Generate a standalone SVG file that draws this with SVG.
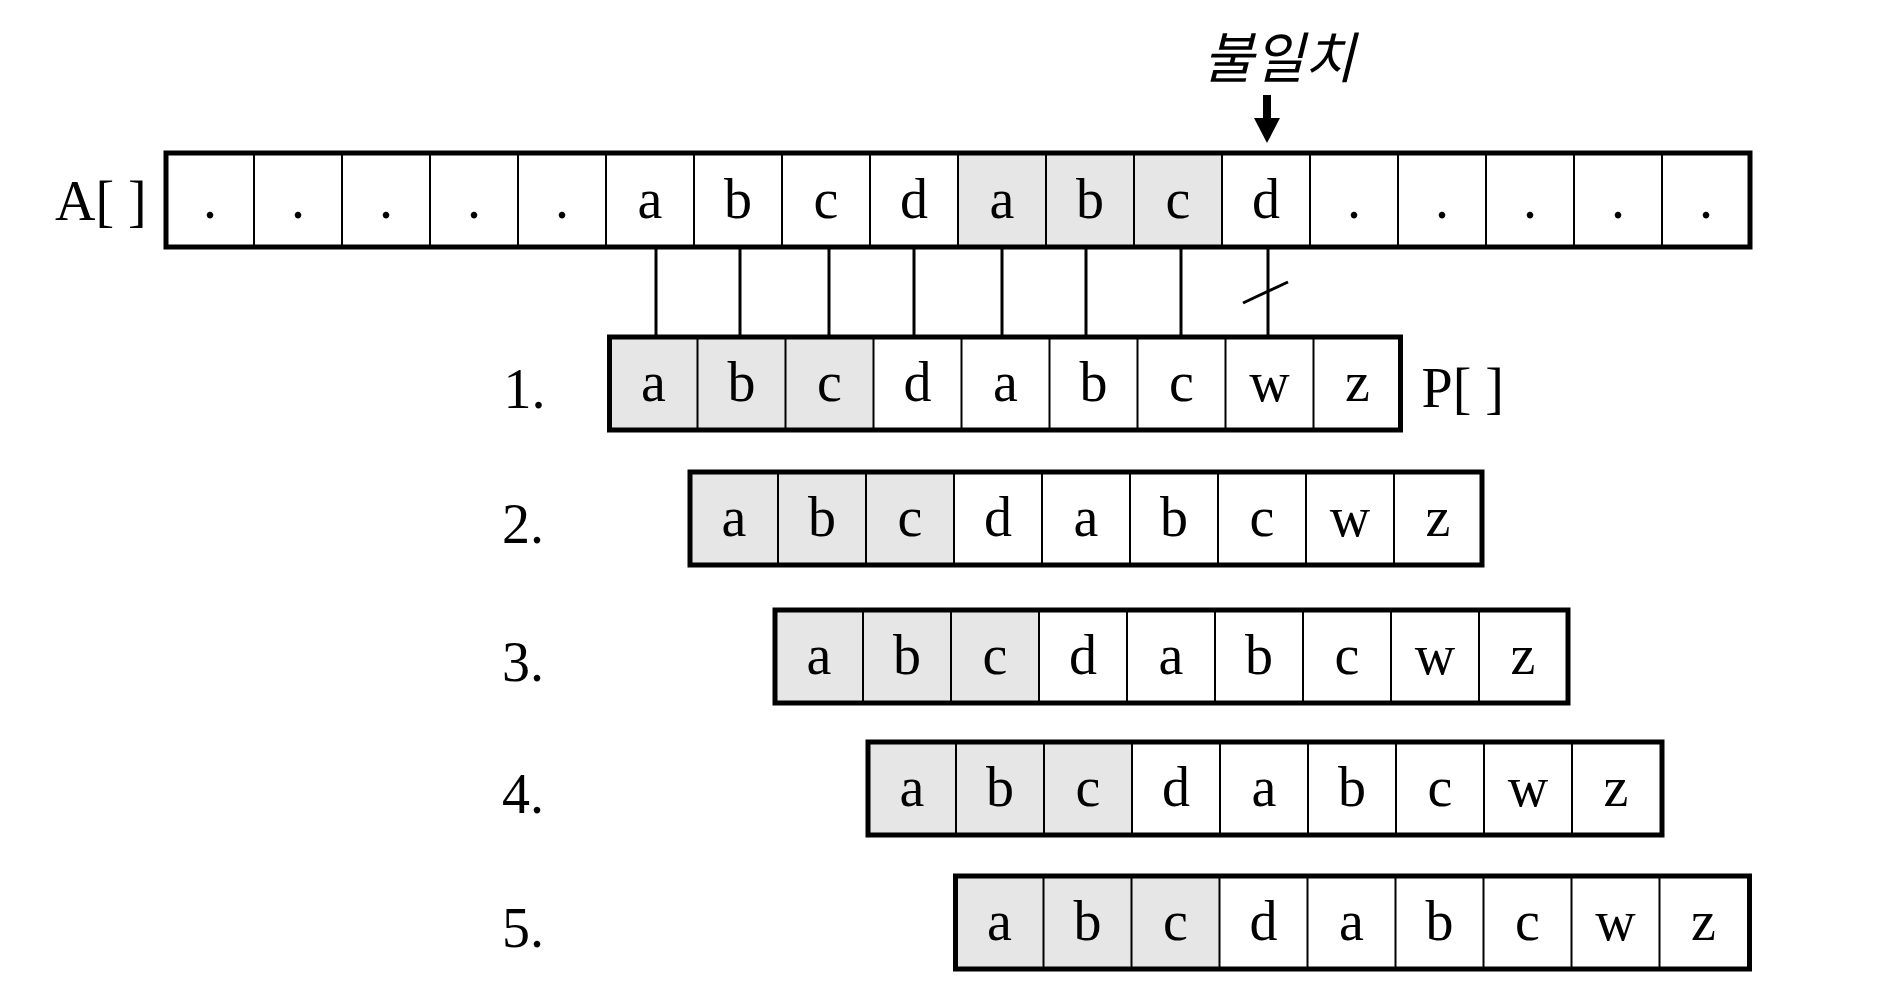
<svg xmlns="http://www.w3.org/2000/svg" width="1878" height="1000" viewBox="0 0 1878 1000">
<style>
.t{font-family:"Liberation Serif","Times New Roman",serif;font-size:56px;fill:#000;}
.c{text-anchor:middle;}
.g{fill:#e6e6e6;}
.frame{fill:none;stroke:#000;stroke-width:5;}
.div{stroke:#000;stroke-width:2;}
.con{stroke:#000;stroke-width:3;fill:none;}
.kr{font-family:"Noto Sans CJK KR","Noto Sans",sans-serif;font-size:55px;font-style:italic;text-anchor:middle;fill:#000;}
</style>
<rect width="1878" height="1000" fill="#fff"/>

<g id="arrayA">
<rect class="g" x="958" y="153" width="264" height="94"/>
<g class="div">
<line x1="254" y1="153" x2="254" y2="247"/><line x1="342" y1="153" x2="342" y2="247"/><line x1="430" y1="153" x2="430" y2="247"/><line x1="518" y1="153" x2="518" y2="247"/><line x1="606" y1="153" x2="606" y2="247"/><line x1="694" y1="153" x2="694" y2="247"/><line x1="782" y1="153" x2="782" y2="247"/><line x1="870" y1="153" x2="870" y2="247"/><line x1="958" y1="153" x2="958" y2="247"/><line x1="1046" y1="153" x2="1046" y2="247"/><line x1="1134" y1="153" x2="1134" y2="247"/><line x1="1222" y1="153" x2="1222" y2="247"/><line x1="1310" y1="153" x2="1310" y2="247"/><line x1="1398" y1="153" x2="1398" y2="247"/><line x1="1486" y1="153" x2="1486" y2="247"/><line x1="1574" y1="153" x2="1574" y2="247"/><line x1="1662" y1="153" x2="1662" y2="247"/>
</g>
<rect class="frame" x="166" y="153" width="1584" height="94"/>
<g class="t c">
<text x="210" y="218">.</text><text x="298" y="218">.</text><text x="386" y="218">.</text><text x="474" y="218">.</text><text x="562" y="218">.</text>
<text x="650" y="218">a</text><text x="738" y="218">b</text><text x="826" y="218">c</text><text x="914" y="218">d</text>
<text x="1002" y="218">a</text><text x="1090" y="218">b</text><text x="1178" y="218">c</text><text x="1266" y="218">d</text>
<text x="1354" y="218">.</text><text x="1442" y="218">.</text><text x="1530" y="218">.</text><text x="1618" y="218">.</text><text x="1706" y="218">.</text>
</g>
<text class="t" x="55" y="220">A[ ]</text>
</g>

<g id="mismatch">
<text class="kr" x="1279" y="78">불일치</text>
<rect x="1263" y="95" width="8" height="25" fill="#000"/>
<polygon points="1254,118 1280,118 1267,143" fill="#000"/>
</g>

<g id="connectors">
<line class="con" x1="656" y1="248" x2="656" y2="336"/>
<line class="con" x1="740" y1="248" x2="740" y2="336"/>
<line class="con" x1="829" y1="248" x2="829" y2="336"/>
<line class="con" x1="914" y1="248" x2="914" y2="336"/>
<line class="con" x1="1002" y1="248" x2="1002" y2="336"/>
<line class="con" x1="1086" y1="248" x2="1086" y2="336"/>
<line class="con" x1="1181" y1="248" x2="1181" y2="336"/>
<line class="con" x1="1268" y1="248" x2="1268" y2="336"/>
<line class="con" x1="1243" y1="303" x2="1288" y2="282" stroke-width="3.5"/>
</g>

<g id="row1" transform="translate(609.5,337)">
<rect class="g" x="0" y="0" width="264" height="93"/>
<g class="div"><line x1="88" y1="0" x2="88" y2="93"/><line x1="176" y1="0" x2="176" y2="93"/><line x1="264" y1="0" x2="264" y2="93"/><line x1="352" y1="0" x2="352" y2="93"/><line x1="440" y1="0" x2="440" y2="93"/><line x1="528" y1="0" x2="528" y2="93"/><line x1="616" y1="0" x2="616" y2="93"/><line x1="704" y1="0" x2="704" y2="93"/></g>
<rect class="frame" x="0" y="0" width="791" height="93"/>
<g class="t c"><text x="44" y="64">a</text><text x="132" y="64">b</text><text x="220" y="64">c</text><text x="308" y="64">d</text><text x="396" y="64">a</text><text x="484" y="64">b</text><text x="572" y="64">c</text><text x="660" y="64">w</text><text x="748" y="64">z</text></g>
<text class="t" x="-106" y="71">1.</text>
<text class="t" x="812" y="70">P[ ]</text>
</g>

<g id="row2" transform="translate(690,472)">
<rect class="g" x="0" y="0" width="264" height="93"/>
<g class="div"><line x1="88" y1="0" x2="88" y2="93"/><line x1="176" y1="0" x2="176" y2="93"/><line x1="264" y1="0" x2="264" y2="93"/><line x1="352" y1="0" x2="352" y2="93"/><line x1="440" y1="0" x2="440" y2="93"/><line x1="528" y1="0" x2="528" y2="93"/><line x1="616" y1="0" x2="616" y2="93"/><line x1="704" y1="0" x2="704" y2="93"/></g>
<rect class="frame" x="0" y="0" width="792" height="93"/>
<g class="t c"><text x="44" y="64">a</text><text x="132" y="64">b</text><text x="220" y="64">c</text><text x="308" y="64">d</text><text x="396" y="64">a</text><text x="484" y="64">b</text><text x="572" y="64">c</text><text x="660" y="64">w</text><text x="748" y="64">z</text></g>
<text class="t" x="-188" y="71">2.</text>
</g>

<g id="row3" transform="translate(775,610)">
<rect class="g" x="0" y="0" width="264" height="93"/>
<g class="div"><line x1="88" y1="0" x2="88" y2="93"/><line x1="176" y1="0" x2="176" y2="93"/><line x1="264" y1="0" x2="264" y2="93"/><line x1="352" y1="0" x2="352" y2="93"/><line x1="440" y1="0" x2="440" y2="93"/><line x1="528" y1="0" x2="528" y2="93"/><line x1="616" y1="0" x2="616" y2="93"/><line x1="704" y1="0" x2="704" y2="93"/></g>
<rect class="frame" x="0" y="0" width="793" height="93"/>
<g class="t c"><text x="44" y="64">a</text><text x="132" y="64">b</text><text x="220" y="64">c</text><text x="308" y="64">d</text><text x="396" y="64">a</text><text x="484" y="64">b</text><text x="572" y="64">c</text><text x="660" y="64">w</text><text x="748" y="64">z</text></g>
<text class="t" x="-273" y="71">3.</text>
</g>

<g id="row4" transform="translate(868,742)">
<rect class="g" x="0" y="0" width="264" height="93"/>
<g class="div"><line x1="88" y1="0" x2="88" y2="93"/><line x1="176" y1="0" x2="176" y2="93"/><line x1="264" y1="0" x2="264" y2="93"/><line x1="352" y1="0" x2="352" y2="93"/><line x1="440" y1="0" x2="440" y2="93"/><line x1="528" y1="0" x2="528" y2="93"/><line x1="616" y1="0" x2="616" y2="93"/><line x1="704" y1="0" x2="704" y2="93"/></g>
<rect class="frame" x="0" y="0" width="794" height="93"/>
<g class="t c"><text x="44" y="64">a</text><text x="132" y="64">b</text><text x="220" y="64">c</text><text x="308" y="64">d</text><text x="396" y="64">a</text><text x="484" y="64">b</text><text x="572" y="64">c</text><text x="660" y="64">w</text><text x="748" y="64">z</text></g>
<text class="t" x="-366" y="71">4.</text>
</g>

<g id="row5" transform="translate(955.5,876)">
<rect class="g" x="0" y="0" width="264" height="93"/>
<g class="div"><line x1="88" y1="0" x2="88" y2="93"/><line x1="176" y1="0" x2="176" y2="93"/><line x1="264" y1="0" x2="264" y2="93"/><line x1="352" y1="0" x2="352" y2="93"/><line x1="440" y1="0" x2="440" y2="93"/><line x1="528" y1="0" x2="528" y2="93"/><line x1="616" y1="0" x2="616" y2="93"/><line x1="704" y1="0" x2="704" y2="93"/></g>
<rect class="frame" x="0" y="0" width="794" height="93"/>
<g class="t c"><text x="44" y="64">a</text><text x="132" y="64">b</text><text x="220" y="64">c</text><text x="308" y="64">d</text><text x="396" y="64">a</text><text x="484" y="64">b</text><text x="572" y="64">c</text><text x="660" y="64">w</text><text x="748" y="64">z</text></g>
<text class="t" x="-453.5" y="71">5.</text>
</g>
</svg>
